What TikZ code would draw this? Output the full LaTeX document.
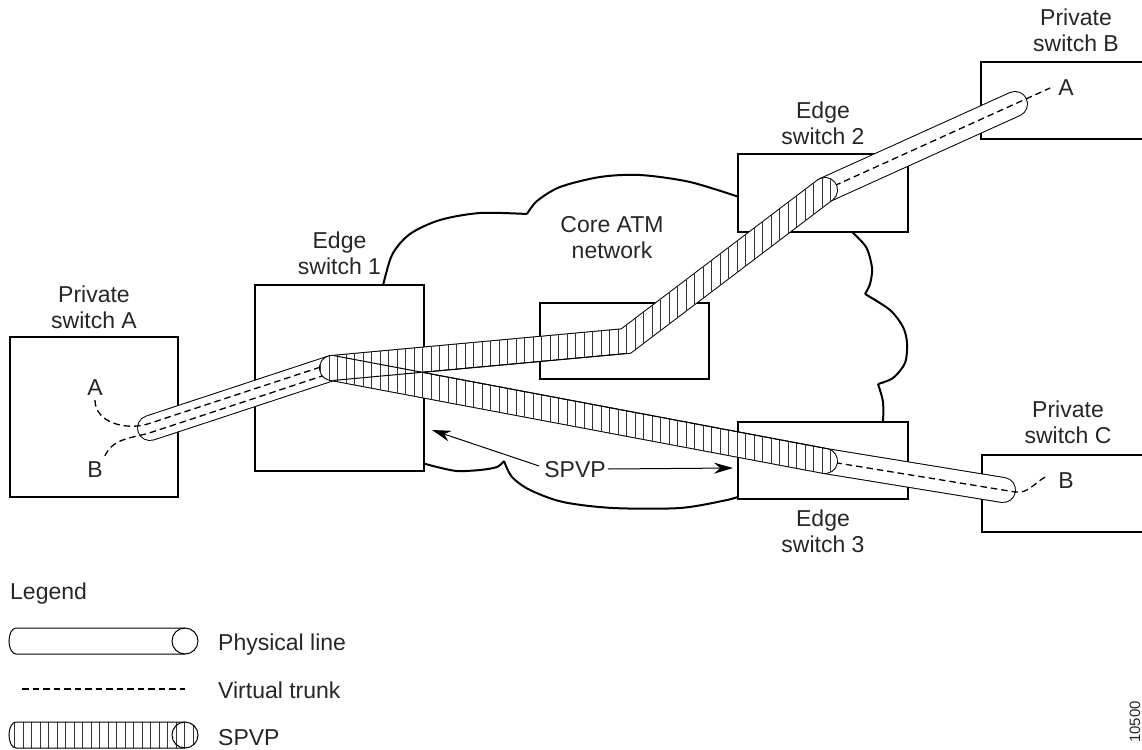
\documentclass[tikz,border=0pt]{standalone}
\usepackage{fontspec}
\setmainfont{Liberation Sans}
\usetikzlibrary{calc,positioning,arrows.meta}

\newcommand{\tuberad}{12.5pt}
\newcommand{\hatchlines}{\foreach \hx in {6,14.5,...,1140} \draw[hatch] (\hx,0) -- (\hx,749);}
\newcommand{\hatchseg}[2]{\begin{scope}
\clip ($(#1)!\tuberad!90:(#2)$) -- ($(#2)!\tuberad!-90:(#1)$) -- ($(#2)!\tuberad!90:(#1)$) -- ($(#1)!\tuberad!-90:(#2)$) -- cycle;
\hatchlines
\end{scope}}
\newcommand{\hatchcap}[1]{\begin{scope}
\clip (#1) circle (\tuberad);
\hatchlines
\end{scope}}

\begin{document}
\begin{tikzpicture}[x=1pt,y=-1pt,
every node/.style={font=\fontsize{23}{26}\selectfont},
swbox/.style={draw,line width=2.8pt,fill=white,inner sep=0pt},
lbl/.style={align=center,inner sep=0pt,text=black!85},
cloudline/.style={line width=2pt},
physline/.style={draw,line width=1pt,double=white,double distance=24pt,line cap=round},
vtrunk/.style={dash pattern=on 6.5pt off 4pt,line width=1.3pt},
spvpout/.style={line width=26pt,line cap=round,line join=miter},
spvpin/.style={line width=24pt,white,line cap=round,line join=miter},
hatch/.style={line width=0.8pt,black!80},
rim/.style={line width=1pt},
pointer/.style={line width=1pt,-{Stealth[length=19pt,width=11pt]}}]
\useasboundingbox (0,0) rectangle (1142,749);

% cloud
\draw[cloudline] plot[smooth] coordinates {(382,290) (392,255) (410,234) (440,220) (480,213) (527,214)}
 plot[smooth] coordinates {(527,214) (537,201) (560,187) (600,177) (640,175) (690,182) (742,198)}
 plot[smooth] coordinates {(850,230) (866,247) (872,268) (870,284) (865,294)}
 plot[smooth] coordinates {(865,294) (890,310) (903,327) (907,343) (905,363) (893,378) (878,384)}
 plot[smooth] coordinates {(878,384) (883,402) (883,424)}
 plot[smooth] coordinates {(740,496) (727,500) (680,508) (613,508) (563,502) (530,490) (512,477) (504,461)}
 plot[smooth] coordinates {(504,461) (497,467) (480,470) (457,471) (437,467) (422,463)};

% switches
\node[swbox,minimum width=168pt,minimum height=160pt] (prA) at (94,417) {};
\node[swbox,minimum width=169pt,minimum height=186pt] (es1) at (339.5,378) {};
\node[swbox,minimum width=169pt,minimum height=76pt] (core) at (624.5,341) {};
\node[swbox,minimum width=170pt,minimum height=78pt] (es2) at (823,193) {};
\node[swbox,minimum width=190pt,minimum height=77pt] (prB) at (1076,100.5) {};
\node[swbox,minimum width=170pt,minimum height=77pt] (es3) at (823,460.5) {};
\node[swbox,minimum width=172pt,minimum height=77pt] (prC) at (1068,493.5) {};

\node[lbl,above=7pt of prA] (prAlbl) {Private\\switch A};
\node[lbl,above=9pt of es1] (es1lbl) {Edge\\switch 1};
\node[lbl,above=8pt of es2] (es2lbl) {Edge\\switch 2};
\node[lbl,above=9pt of prB] (prBlbl) {Private\\switch B};
\node[lbl,above=10pt of prC] (prClbl) {Private\\switch C};
\node[lbl,below=9pt of es3] (es3lbl) {Edge\\switch 3};
\node[lbl] (atm) at (612,238) {Core ATM\\network};

\node[lbl] (tagA1) at (95,388) {A};
\node[lbl] (tagB1) at (95,470) {B};
\node[lbl] (tagA2) at (1066,88) {A};
\node[lbl] (tagB2) at (1066,481) {B};

% tube points
\coordinate (PA) at (150,428);
\coordinate (P1) at (332,368);
\coordinate (bend) at (626,341);
\coordinate (E2) at (825,190);
\coordinate (PBend) at (1015,104);
\coordinate (E3) at (825,461);
\coordinate (PCend) at (1003,490);

\draw[physline] (PA) -- (P1);
\draw[physline] (E2) -- (PBend);
\draw[physline] (E3) -- (PCend);

\coordinate (vtA1) at ([yshift=-4pt]tagA1.south);
\coordinate (vtB1) at ([shift={(2pt,6pt)}]tagB1.north east);
\coordinate (vtA2) at ([xshift=-8pt]tagA2.west);
\coordinate (vtB2) at ([shift={(-13pt,4pt)}]tagB2.west);
\draw[vtrunk] (vtA1) to[out=-90,in=198] ($(PA)!4.5pt!90:(P1)$) -- ($(P1)!4.5pt!-90:(PA)$);
\draw[vtrunk] (vtB1) to[out=65,in=198] ($(PA)!4.5pt!-90:(P1)$) -- ($(P1)!4.5pt!90:(PA)$);
\draw[vtrunk] (E2) -- (vtA2);
\draw[vtrunk] (E3) -- ($(PCend)!-12pt!(E3)$) to[out=-9,in=210] (vtB2);

% SPVP
\draw[spvpout] (P1) -- (bend) -- (E2) (P1) -- (E3);
\draw[spvpin] (P1) -- (bend) -- (E2) (P1) -- (E3);
\hatchseg{P1}{bend}
\hatchseg{bend}{E2}
\hatchseg{P1}{E3}
\hatchcap{P1}
\hatchcap{bend}
\hatchcap{E2}
\hatchcap{E3}
\draw[rim] ($(P1)!\tuberad!-90:(bend)$) -- ($(bend)!\tuberad!90:(P1)$);
\draw[rim] ($(P1)!\tuberad!90:(E3)$) -- ($(E3)!\tuberad!-90:(P1)$);

\node[lbl] (spvp) at (575,470) {SPVP};
\coordinate (spvpL) at (432,430);
\coordinate (spvpR) at (733,468);
\draw[pointer] ([shift={(-5pt,4pt)}]spvp.west) -- (spvpL);
\draw[pointer] ([xshift=2pt,yshift=1pt]spvp.east) -- (spvpR);

% legend
\node[lbl,anchor=base west] (legend) at (10,599) {Legend};
\draw[rim] (185,628) -- (16,628) arc[start angle=90,end angle=270,x radius=7pt,y radius=13pt] -- (185,654);
\draw[rim] (185,641) circle (13pt);
\node[lbl,anchor=base west] (lgphys) at (218,650) {Physical line};
\coordinate (lgvt1) at (22,689);
\coordinate (lgvt2) at (185,689);
\draw[vtrunk] (lgvt1) -- (lgvt2);
\node[lbl,anchor=base west] (lgvt) at (218,698) {Virtual trunk};
\begin{scope}
\clip (185,722) -- (16,722) arc[start angle=90,end angle=270,x radius=7pt,y radius=13pt] -- (185,748) -- cycle;
\hatchlines
\end{scope}
\hatchcap{185,735}
\draw[rim] (185,722) -- (16,722) arc[start angle=90,end angle=270,x radius=7pt,y radius=13pt] -- (185,748);
\draw[rim] (185,735) circle (13pt);
\node[lbl,anchor=base west] (lgspvp) at (218,745) {SPVP};

\node[lbl,rotate=90,anchor=base,font=\fontsize{15}{15}\selectfont] (figid) at (1140,722) {10500};
\end{tikzpicture}
\end{document}
